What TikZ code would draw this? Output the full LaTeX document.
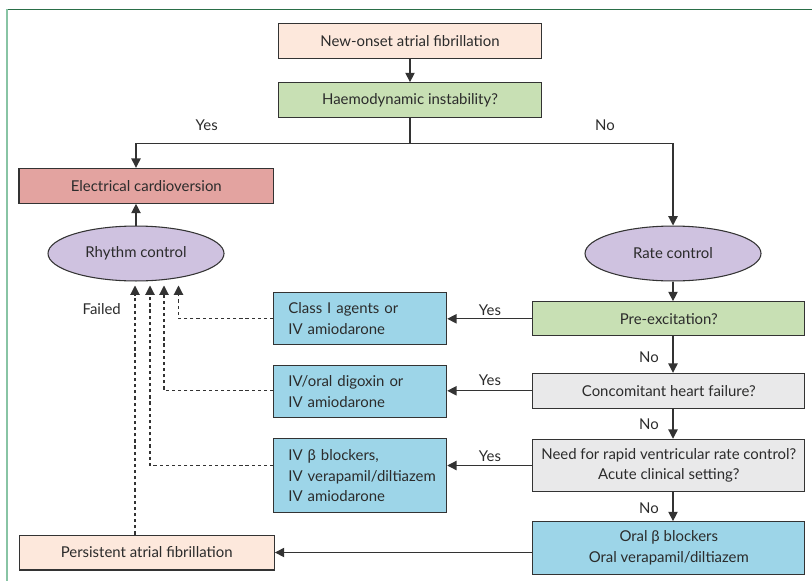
\documentclass[tikz,border=0pt]{standalone}
\usepackage{fontspec}
\setmainfont{Lato}
\usetikzlibrary{arrows.meta,shapes.geometric}
\definecolor{txt}{HTML}{2B2B2B}
\definecolor{ln}{HTML}{333333}
\definecolor{peach}{HTML}{FDE8DC}
\definecolor{grn}{HTML}{C8E0B4}
\definecolor{redb}{HTML}{E3A3A0}
\definecolor{lav}{HTML}{CFC2E0}
\definecolor{blu}{HTML}{9DD5E8}
\definecolor{gry}{HTML}{E9E9EA}
\definecolor{frameA}{HTML}{2A6E48}
\definecolor{frameB}{HTML}{88C4A4}
\tikzset{
  every node/.style={font=\fontsize{11.2}{15.5}\selectfont, text=txt},
  box/.style={draw=ln, line width=0.8pt, rectangle, inner sep=0pt, align=center},
  lbox/.style={draw=ln, line width=0.8pt, rectangle, inner xsep=11pt, inner ysep=0pt, align=left},
  oval/.style={draw=ln, line width=0.8pt, ellipse, inner sep=0pt, fill=lav},
  arr/.style={draw=ln, line width=0.9pt, -{Triangle[length=7pt,width=7pt]}},
  conn/.style={draw=ln, line width=0.9pt},
  dasharr/.style={draw=ln, line width=0.8pt, dash pattern=on 2.4pt off 2.2pt, -{Triangle[length=7pt,width=7pt]}},
  lbl/.style={inner sep=0pt}
}
\begin{document}
\begin{tikzpicture}[x=0.75pt,y=-0.75pt]
\useasboundingbox (0,0) rectangle (812,581);
% frame
\draw[frameA, line width=0.9pt] (6.7,9.3) -- (812,9.3);
\draw[frameB, line width=1.3pt] (6.7,9.3) -- (6.7,581);

% nodes
\node[box, fill=peach, minimum width=197pt, minimum height=26.5pt] (new) at (410,41) {New-onset atrial fibrillation};
\node[box, fill=grn, minimum width=197pt, minimum height=26pt] (haemo) at (410,100) {Haemodynamic instability?};
\node[box, fill=redb, minimum width=191pt, minimum height=26.2pt] (elec) at (146.3,185.8) {Electrical cardioversion};
\node[oval, minimum width=132pt, minimum height=41.2pt] (rhythm) at (136,253.5) {Rhythm control};
\node[oval, minimum width=132pt, minimum height=41.2pt] (rate) at (673,253.5) {Rate control};
\node[box, fill=grn, minimum width=204.2pt, minimum height=25.7pt] (pre) at (668.8,318.8) {Pre-excitation?};
\node[box, fill=gry, minimum width=204.2pt, minimum height=26.2pt] (conc) at (668.8,390.8) {Concomitant heart failure?};
\node[box, fill=gry, minimum width=204.2pt, minimum height=39.3pt] (need) at (668.8,465.5) {Need for rapid ventricular rate control?\\Acute clinical setting?};
\node[box, fill=blu, minimum width=204.2pt, minimum height=39.5pt] (oral) at (668.8,548) {Oral β blockers\\Oral verapamil/diltiazem};
\node[lbox, fill=blu, text width=107.75pt, minimum height=39pt] (classI) at (360.2,318.3) {\mbox{Class I agents or}\\\mbox{IV amiodarone}};
\node[lbox, fill=blu, text width=107.75pt, minimum height=39pt] (digox) at (360.2,391.7) {\mbox{IV/oral digoxin or}\\\mbox{IV amiodarone}};
\node[lbox, fill=blu, text width=107.75pt, minimum height=55.3pt] (ivbeta) at (360.2,475.8) {\mbox{IV β blockers,}\\\mbox{IV verapamil/diltiazem}\\\mbox{IV amiodarone}};
\node[box, fill=peach, minimum width=191.5pt, minimum height=26.2pt] (persist) at (146.7,552.5) {Persistent atrial fibrillation};

% labels
\node[lbl] (yes0) at (206.7,125) {Yes};
\node[lbl] (no0) at (605,125) {No};
\node[lbl] (failed) at (101.7,309.3) {Failed};
\node[lbl] (yes1) at (490,310) {Yes};
\node[lbl] (yes2) at (490,380) {Yes};
\node[lbl] (yes3) at (490,456.7) {Yes};
\node[lbl] (no1) at (649,356.7) {No};
\node[lbl] (no2) at (649,424) {No};
\node[lbl] (no3) at (649,507.7) {No};

% coordinates
\coordinate (split) at (410,143.3);
\coordinate (r1) at (135,285.5);
\coordinate (r2) at (150,285.5);
\coordinate (r3) at (164,285.5);
\coordinate (r4) at (178.5,285.5);

% connectors
\draw[arr] (new.south) -- (haemo.north);
\draw[conn] (haemo.south) -- (split);
\draw[arr] (split) -| (rhythm.north |- elec.north);
\draw[arr] (split) -| (rate.north);
\draw[arr] (rhythm.north) -- (rhythm.north |- elec.south);
\draw[arr] (rate.south) -- (rate.south |- pre.north);
\draw[arr] (pre.south -| rate.south) -- (conc.north -| rate.south);
\draw[arr] (conc.south -| rate.south) -- (need.north -| rate.south);
\draw[arr] (need.south -| rate.south) -- (oral.north -| rate.south);
\draw[arr] (pre.west) -- (pre.west -| classI.east);
\draw[arr] (conc.west) -- (conc.west -| digox.east);
\draw[arr] (need.west) -- (need.west -| ivbeta.east);
\draw[arr] (persist.east -| oral.west) -- (persist.east);

\draw[dasharr] (classI.west) -| (r4);
\draw[dasharr] (conc.west -| digox.west) -| (r3);
\draw[dasharr] (need.west -| ivbeta.west) -| (r2);
\draw[dasharr] (persist.north -| r1) -- (r1);
\end{tikzpicture}
\end{document}
